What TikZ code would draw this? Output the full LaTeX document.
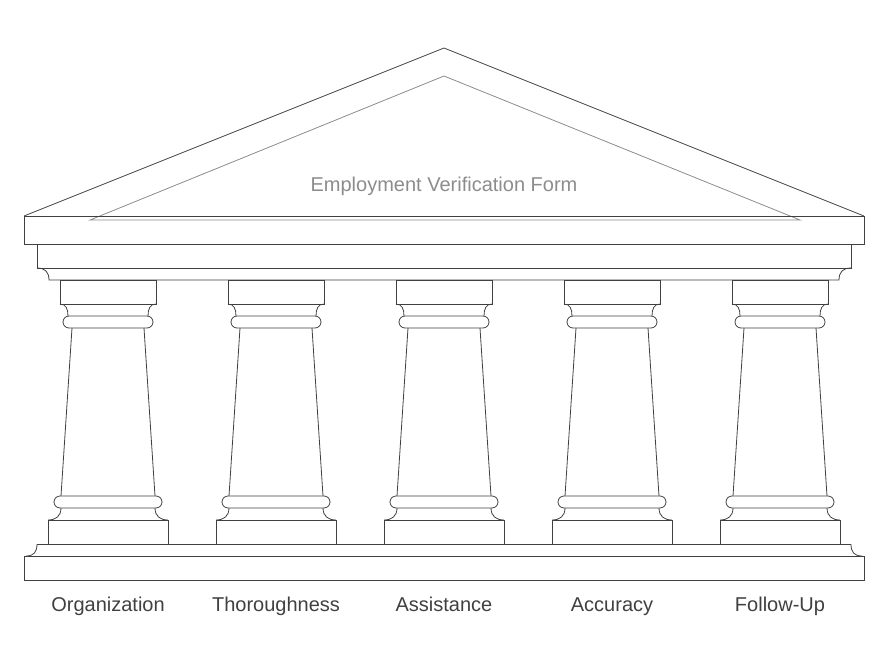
\documentclass[tikz,border=0pt]{standalone}
\usepackage{fontspec}
\setmainfont{Liberation Sans}
\usepackage{tikz}
\begin{document}
\begin{tikzpicture}[x=1pt,y=-1pt,line width=0.8pt,draw=black!75,
    lbl/.style={font=\fontsize{20}{24}\selectfont,text=black!75},
    ttl/.style={font=\fontsize{20}{24}\selectfont,text=black!45}]
      \useasboundingbox (0,0) rectangle (889,666);
      % roof
      \draw (24,216) -- (444,48) -- (864,216);
      \draw [black!45] (90,220) -- (444,76) -- (800,220) -- cycle;
      \node [ttl,anchor=base] (title) at (444,191) {Employment Verification Form};
      \draw (24,216) rectangle (864,244);
      \draw (37,244) rectangle (851,268);
      \draw (37,268) .. controls (45,268) and (49,272) .. (49,280) -- (839,280)
            .. controls (839,272) and (843,268) .. (851,268);
      % plinth
      \draw (37,544) .. controls (37,552) and (34,556) .. (26,556);
      \draw (851,544) .. controls (851,552) and (854,556) .. (862,556);
      \draw (37,544) -- (851,544);
      \draw (24,556) rectangle (864,580);
      % columns
      \foreach \x/\name in {108/Organization,276/Thoroughness,444/Assistance,612/Accuracy,780/Follow-Up} {
        \draw (\x-48,280) rectangle (\x+48,304);
        \draw (\x-48,304) .. controls (\x-42,304) and (\x-40,309) .. (\x-40,316);
        \draw (\x+48,304) .. controls (\x+42,304) and (\x+40,309) .. (\x+40,316);
        \draw [rounded corners=6] (\x-45,316) rectangle (\x+45,328);
        \draw (\x-36,328) -- (\x-47,496);
        \draw (\x+36,328) -- (\x+47,496);
        \draw [rounded corners=6] (\x-54,496) rectangle (\x+54,508);
        \draw (\x-47,508) .. controls (\x-47,516) and (\x-52,520) .. (\x-60,520);
        \draw (\x+47,508) .. controls (\x+47,516) and (\x+52,520) .. (\x+60,520);
        \draw (\x-60,520) rectangle (\x+60,544);
        \node [lbl,anchor=base] (lab-\x) at (\x,611) {\name};
      }
    \end{tikzpicture}
\end{document}
